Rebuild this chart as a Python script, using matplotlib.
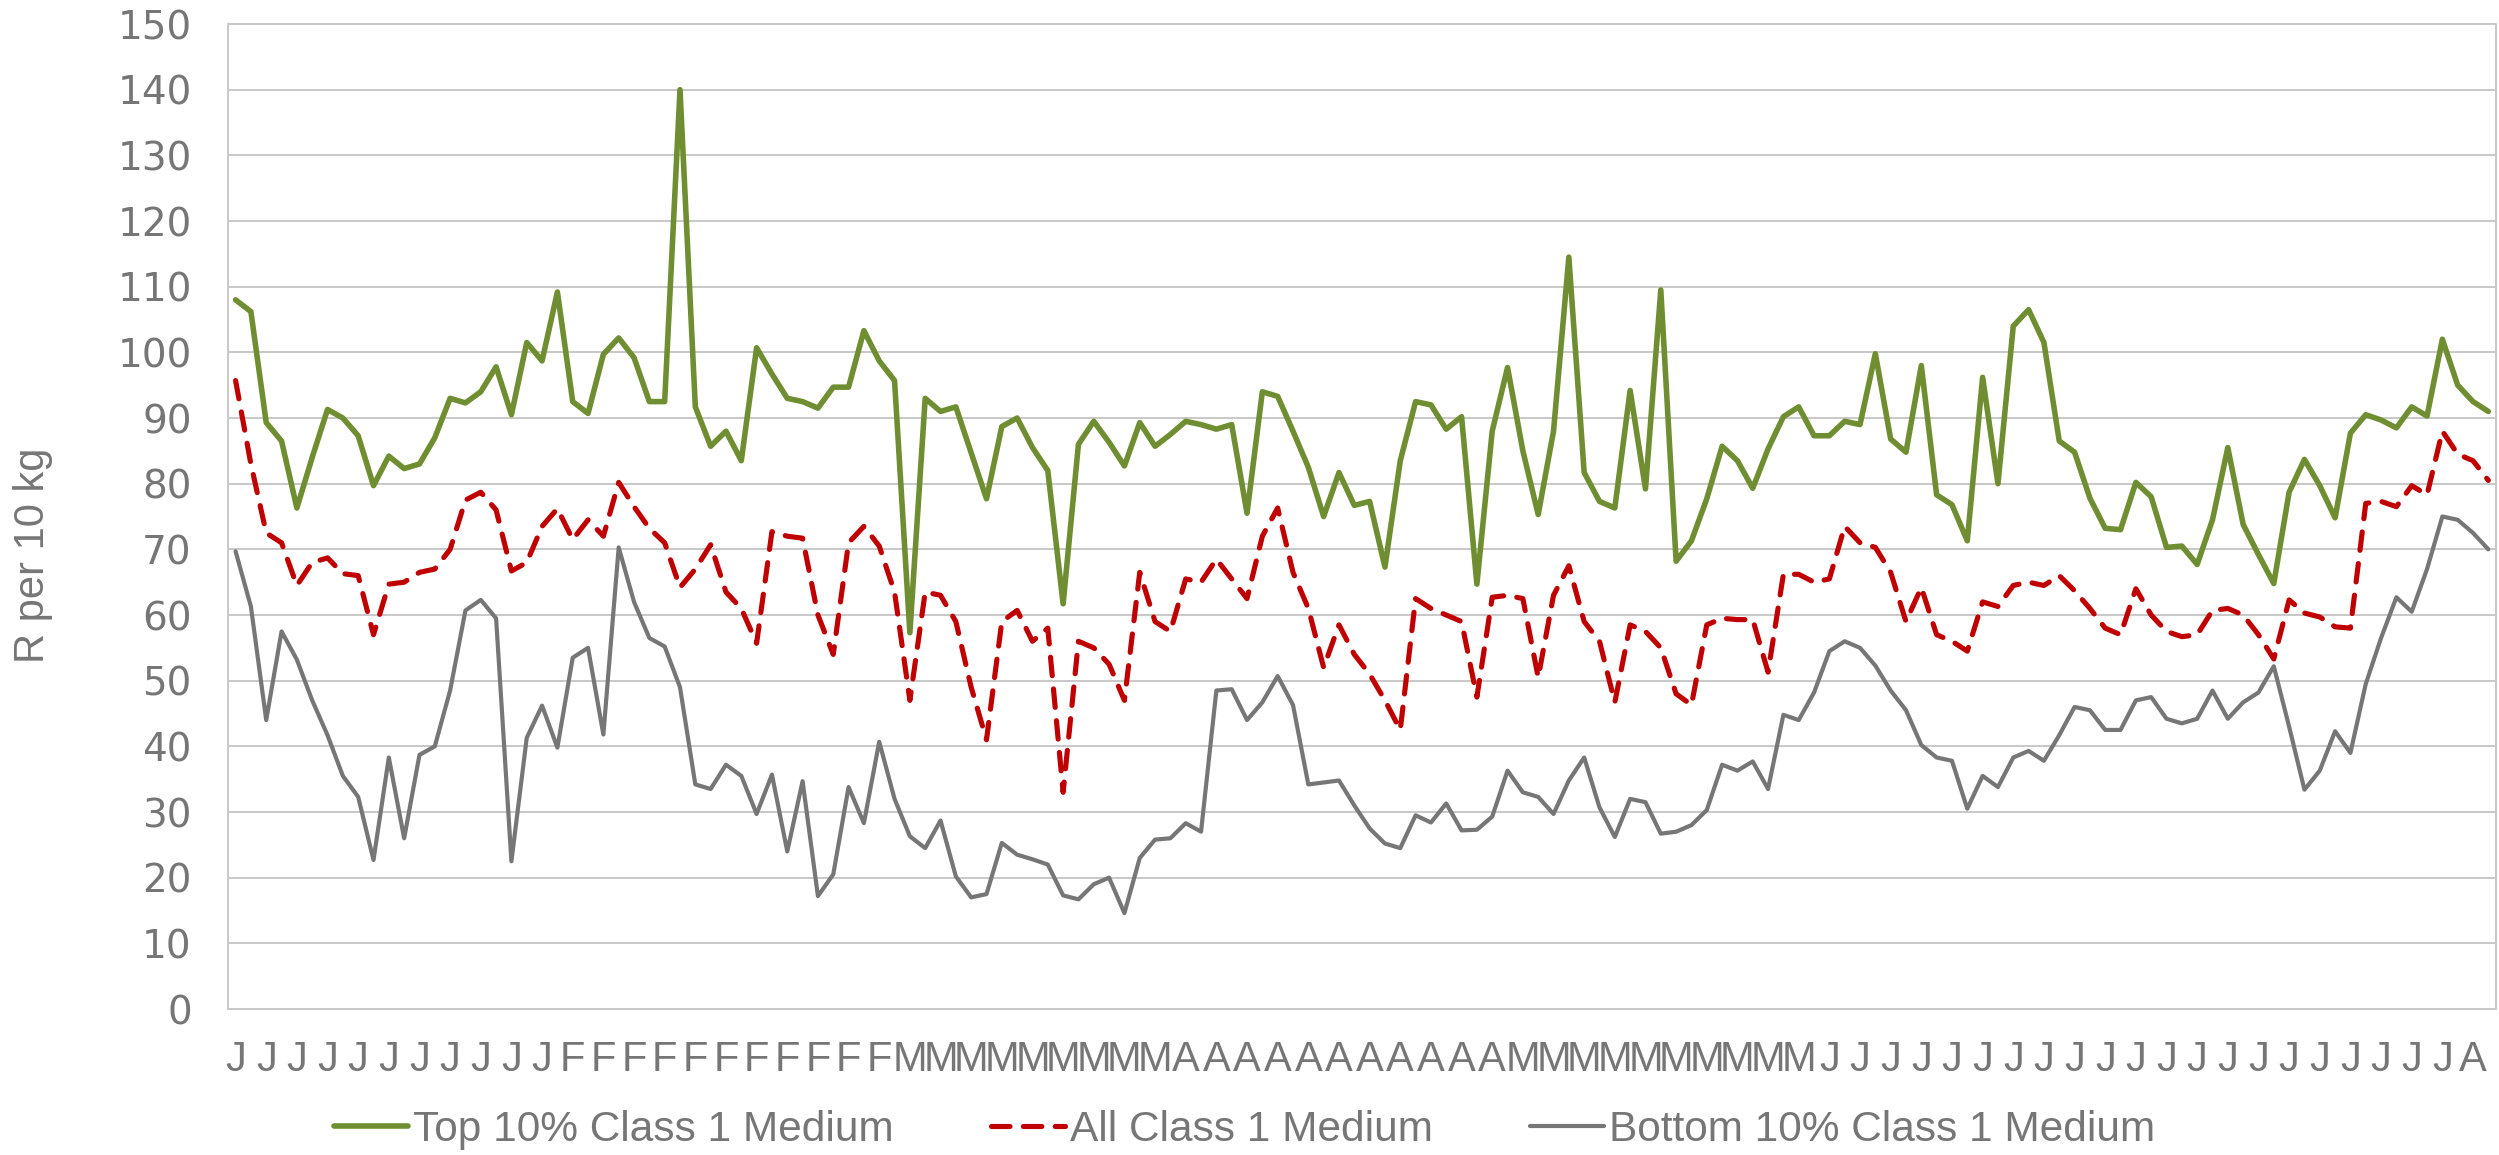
import matplotlib
matplotlib.use("Agg")
import matplotlib.pyplot as plt
import numpy as np

series_names = ["Top 10% Class 1 Medium", "All Class 1 Medium", "Bottom 10% Class 1 Medium"]

top10 = [108, 106.2, 89.3, 86.5, 76.3, 84, 91.3, 90, 87.3, 79.7,
         84.2, 82.3, 83, 87, 93, 92.3, 94, 97.8, 90.5, 101.5,
         98.7, 109.2, 92.5, 90.7, 99.7, 102.2, 99.2, 92.5, 92.5, 140,
         91.7, 85.7, 88, 83.5, 100.7, 96.7, 93, 92.5, 91.5, 94.7,
         94.7, 103.3, 98.7, 95.7, 57.3, 93, 91, 91.7, 84.7, 77.7,
         88.7, 90, 85.5, 82, 61.7, 86, 89.5, 86.3, 82.7, 89.3,
         85.7, 87.5, 89.5, 89, 88.3, 89, 75.5, 94, 93.3, 88,
         82.5, 75, 81.7, 76.7, 77.3, 67.3, 83.5, 92.5, 92, 88.3,
         90.2, 64.7, 88, 97.7, 85, 75.3, 88, 114.5, 81.7, 77.3,
         76.3, 94.2, 79.2, 109.5, 68.2, 71.3, 77.7, 85.7, 83.5, 79.3,
         85.3, 90.2, 91.7, 87.3, 87.3, 89.5, 89, 99.8, 86.8, 84.8,
         98, 78.3, 76.8, 71.3, 96.2, 80, 104, 106.5, 101.5, 86.5,
         84.8, 77.8, 73.2, 73, 80.2, 78, 70.3, 70.5, 67.7, 74.5,
         85.5, 73.8, 69.2, 64.8, 78.7, 83.7, 79.7, 74.8, 87.7, 90.5,
         89.7, 88.5, 91.7, 90.3, 102, 95, 92.5, 91]

all_class1 = [95.7, 83, 72.5, 71, 64.5, 68, 68.7, 66.3, 66, 57,
              64.7, 65, 66.5, 67, 70, 77.5, 78.7, 76, 66.7, 68,
              73.5, 76.2, 71.5, 74.5, 72, 80.2, 76.5, 73.2, 71, 64.2,
              67, 70.7, 63.5, 61, 55.7, 72.7, 72, 71.7, 60, 54,
              71, 73.5, 70.5, 63.5, 47, 63.5, 63, 59, 49, 41,
              59, 60.7, 56, 58, 33, 56, 55, 52.5, 47, 66.5,
              59, 57.5, 65.5, 65, 68.5, 65.5, 62.5, 72, 76.3, 66.5,
              61, 52, 58.5, 54, 51, 47, 42.5, 62.5, 61, 60,
              59, 47.5, 62.7, 63, 62.5, 50.5, 63, 67.5, 59, 56,
              46.7, 58.5, 57.5, 55, 48, 46.3, 58.5, 59.5, 59.3, 59.3,
              51.3, 66.2, 66.2, 65, 65.5, 73.5, 71, 70.3, 66.5, 59,
              64.2, 57, 56, 54.5, 62, 61.3, 64.5, 65, 64.5, 66,
              63.7, 61, 58, 57, 64, 60, 57.5, 56.7, 57, 60.7,
              61, 60, 57, 53.3, 62.3, 60.3, 59.7, 58.2, 58, 77,
              77.3, 76.5, 79.7, 78.3, 88, 84.5, 83.5, 80.5]

bottom10 = [69.7, 61.3, 44, 57.5, 53.2, 47, 41.7, 35.5, 32.3, 22.7,
            38.3, 26, 38.7, 40, 48.5, 60.7, 62.3, 59.5, 22.5, 41.3,
            46.2, 39.8, 53.5, 55, 41.8, 70.3, 62, 56.5, 55.2, 49,
            34.2, 33.5, 37.2, 35.5, 29.7, 35.7, 24, 34.7, 17.2, 20.5,
            33.8, 28.3, 40.7, 32, 26.3, 24.5, 28.7, 20.2, 17, 17.5,
            25.3, 23.5, 22.8, 22, 17.3, 16.7, 19, 20, 14.6, 23,
            25.8, 26, 28.3, 27, 48.5, 48.7, 44, 46.7, 50.7, 46.3,
            34.2, 34.5, 34.8, 31, 27.5, 25.2, 24.5, 29.5, 28.4, 31.3,
            27.2, 27.3, 29.3, 36.3, 33, 32.3, 29.7, 34.8, 38.3, 30.7,
            26.2, 32, 31.5, 26.7, 27, 28, 30.3, 37.2, 36.3, 37.7,
            33.5, 44.8, 44, 48.2, 54.5, 56, 55, 52.3, 48.5, 45.5,
            40.2, 38.3, 37.8, 30.5, 35.5, 33.8, 38.3, 39.3, 37.8, 41.7,
            46, 45.5, 42.5, 42.5, 47, 47.5, 44.2, 43.5, 44.2, 48.5,
            44.2, 46.7, 48.2, 52.2, 43, 33.4, 36.3, 42.3, 39, 49.5,
            56.5, 62.7, 60.5, 67, 75, 74.5, 72.5, 70]

# every second category carries a label
tick_labels = (["J"] * 11 + ["F"] * 11 + ["M"] * 9 + ["A"] * 11 +
               ["M"] * 10 + ["J"] * 21 + ["A"])

y_ticks = list(range(0, 151, 10))

GREEN = "#6F8E32"
RED = "#C00000"
GRAY = "#767676"
TEXT = "#767676"
GRID = "#C8C8C8"

plt.rcParams["font.family"] = ["Liberation Sans", "DejaVu Sans"]

fig = plt.figure(figsize=(24.99, 11.55), dpi=100)
ax = fig.add_axes([0.0912, 0.1264, 0.9076, 0.8528])

x = np.arange(len(top10))
l1, = ax.plot(x, top10, color=GREEN, lw=4.0, solid_joinstyle="round",
              solid_capstyle="round", label=series_names[0], zorder=3)
l2, = ax.plot(x, all_class1, color=RED, lw=3.7, dashes=(3.6, 2.6),
              dash_capstyle="round", dash_joinstyle="round",
              label=series_names[1], zorder=4)
l3, = ax.plot(x, bottom10, color=GRAY, lw=3.0, solid_joinstyle="round",
              solid_capstyle="round", label=series_names[2], zorder=3)

ax.set_xlim(-0.5, len(top10) - 0.5)
ax.set_ylim(0, 150)
ax.set_yticks(y_ticks)
ax.set_xticks(np.arange(0, len(top10), 2))
ax.set_xticklabels(tick_labels)

ax.grid(axis="y", color=GRID, lw=1.4)
ax.set_axisbelow(True)
for s in ax.spines.values():
    s.set_color(GRID)
    s.set_linewidth(1.4)

ax.tick_params(axis="y", length=0, pad=26, labelcolor=TEXT)
ax.tick_params(axis="x", length=0, pad=22, labelsize=30, labelcolor=TEXT)
for t in ax.get_yticklabels():
    t.set_fontfamily(["DejaVu Sans"])
    t.set_fontsize(28)

fig.text(0.0134, 0.5195, "R per 10 kg", rotation=90, va="center", ha="center",
         fontsize=30, color=TEXT)

fig.legend(handles=[l1, l2, l3], loc="center", bbox_to_anchor=(0.498, 0.022),
           ncol=3, frameon=False, fontsize=30.5, handlelength=1.74,
           handletextpad=0.12, columnspacing=2.3, labelcolor=TEXT)

fig.savefig("out.png", dpi=100)
